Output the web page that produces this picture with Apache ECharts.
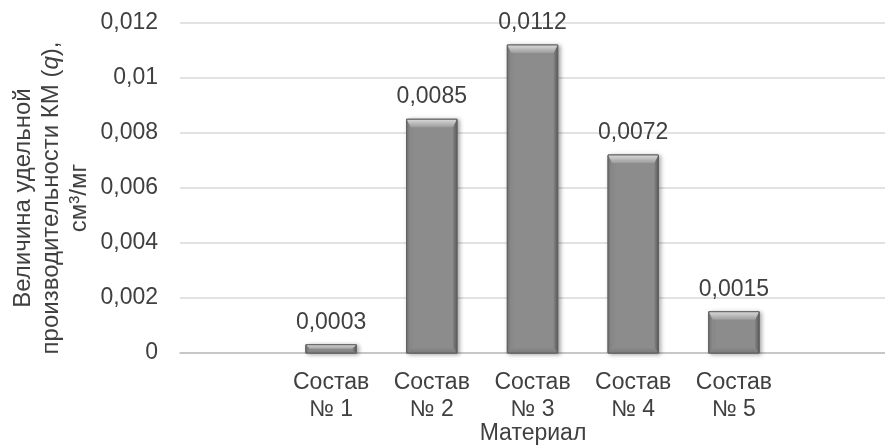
<!DOCTYPE html>
<html>
<head>
<meta charset="utf-8">
<script src="https://cdn.jsdelivr.net/npm/echarts@6/dist/echarts.min.js"></script>
<style>
  html, body { margin: 0; padding: 0; background: #fff; }
  #chart { width: 885px; height: 446px; }
</style>
</head>
<body>
<div id="chart"></div>
<script>
// Categories: empty slots at both ends leave room around the five compositions
const categories = ['', 'Состав\n№ 1', 'Состав\n№ 2', 'Состав\n№ 3', 'Состав\n№ 4', 'Состав\n№ 5', ''];
const values = [null, 0.0003, 0.0085, 0.0112, 0.0072, 0.0015, null];
const valueLabels = ['', '0,0003', '0,0085', '0,0112', '0,0072', '0,0015', ''];
const yMin = 0, yMax = 0.012, yStep = 0.002;

const FONT = '"Liberation Sans", Arial, sans-serif';
const TEXT = '#404040';
const FS = 23;

const barData = values.map((v, i) => [i, v]);

// Bevelled grey bar drawn from the axis coordinates
function renderBar(params, api) {
  const v = api.value(1);
  if (v == null || isNaN(v)) return;
  const idx = api.value(0);
  const top = api.coord([idx, v]);
  const base = api.coord([idx, 0]);
  const w = api.size([1, 0])[0] * 0.5;
  const x0 = top[0] - w / 2, x1 = top[0] + w / 2;
  const y0 = top[1], y1 = base[1];
  const h = y1 - y0;
  const b = Math.min(8, h / 2);
  const s = Math.min(4, w / 4);
  const lg = (c0, c1, vertical) => new echarts.graphic.LinearGradient(0, 0, vertical ? 0 : 1, vertical ? 1 : 0, [
    { offset: 0, color: c0 }, { offset: 1, color: c1 }
  ]);
  return {
    type: 'group',
    children: [
      { type: 'rect', shape: { x: x0, y: y0, width: w, height: h },
        style: { fill: '#8c8c8c', stroke: '#5f5f5f', lineWidth: 1,
          shadowBlur: 4, shadowOffsetX: 2, shadowOffsetY: 1, shadowColor: 'rgba(0,0,0,0.35)' } },
      { type: 'polygon', shape: { points: [[x0, y1], [x1, y1], [x1 - s, y1 - b * 0.7], [x0 + s, y1 - b * 0.7]] },
        style: { fill: lg('#8c8c8c', '#7a7a7a', true) } },
      { type: 'polygon', shape: { points: [[x0, y0], [x0 + s, y0 + b], [x0 + s, y1 - b * 0.7], [x0, y1]] },
        style: { fill: lg('#727272', '#8c8c8c', false) } },
      { type: 'polygon', shape: { points: [[x1, y0], [x1 - s, y0 + b], [x1 - s, y1 - b * 0.7], [x1, y1]] },
        style: { fill: lg('#828282', '#5c5c5c', false) } },
      { type: 'polygon', shape: { points: [[x0, y0], [x1, y0], [x1 - s, y0 + b], [x0 + s, y0 + b]] },
        style: { fill: lg('#dadada', '#9c9c9c', true) } },
      { type: 'rect', shape: { x: x0, y: y0, width: w, height: h },
        style: { fill: 'none', stroke: '#606060', lineWidth: 1 } },
      { type: 'text', x: top[0], y: y0 - 11,
        style: { text: valueLabels[idx], align: 'center', verticalAlign: 'bottom',
          font: FS + 'px ' + FONT, fill: TEXT } }
    ]
  };
}

const chart = echarts.init(document.getElementById('chart'));
chart.setOption({
  animation: false,
  backgroundColor: '#ffffff',
  grid: { left: 180, right: 0, top: 23, bottom: 93, containLabel: false, outerBoundsMode: 'none' },
  graphic: [
    // Rotated y-axis title, three centred lines
    {
      type: 'text',
      x: 51,
      y: 198,
      rotation: Math.PI / 2,
      style: {
        text: '{a|Величина удельной}\n{a|производительности КМ (}{i|q}{a|),}\n{a|см³/мг}',
        align: 'center',
        verticalAlign: 'middle',
        fill: TEXT,
        font: '24px ' + FONT,
        lineHeight: 28,
        rich: {
          a: { fontSize: 24, fontFamily: FONT, fill: TEXT, lineHeight: 28, align: 'center' },
          i: { fontSize: 24, fontFamily: FONT, fill: TEXT, fontStyle: 'italic', lineHeight: 28, align: 'center' }
        }
      }
    },
    // x-axis title under the category labels
    {
      type: 'text',
      x: 533,
      y: 434,
      style: { text: 'Материал', align: 'center', verticalAlign: 'middle',
        font: FS + 'px ' + FONT, fill: TEXT }
    }
  ],
  xAxis: {
    type: 'category',
    data: categories,
    axisLine: { lineStyle: { color: '#bfbfbf', width: 1.5 } },
    axisTick: { show: false },
    axisLabel: { color: TEXT, fontSize: FS, fontFamily: FONT, lineHeight: 27, margin: 16, interval: 0 }
  },
  yAxis: {
    type: 'value',
    min: yMin, max: yMax, interval: yStep,
    axisLine: { show: false },
    axisTick: { show: false },
    splitLine: { lineStyle: { color: '#d9d9d9', width: 1.5 } },
    axisLabel: {
      color: TEXT, fontSize: FS, fontFamily: FONT, margin: 22,
      formatter: v => String(+v.toFixed(4)).replace('.', ',')
    }
  },
  series: [{
    type: 'custom',
    renderItem: renderBar,
    encode: { x: 0, y: 1 },
    data: barData,
    clip: false
  }]
});
</script>
</body>
</html>
